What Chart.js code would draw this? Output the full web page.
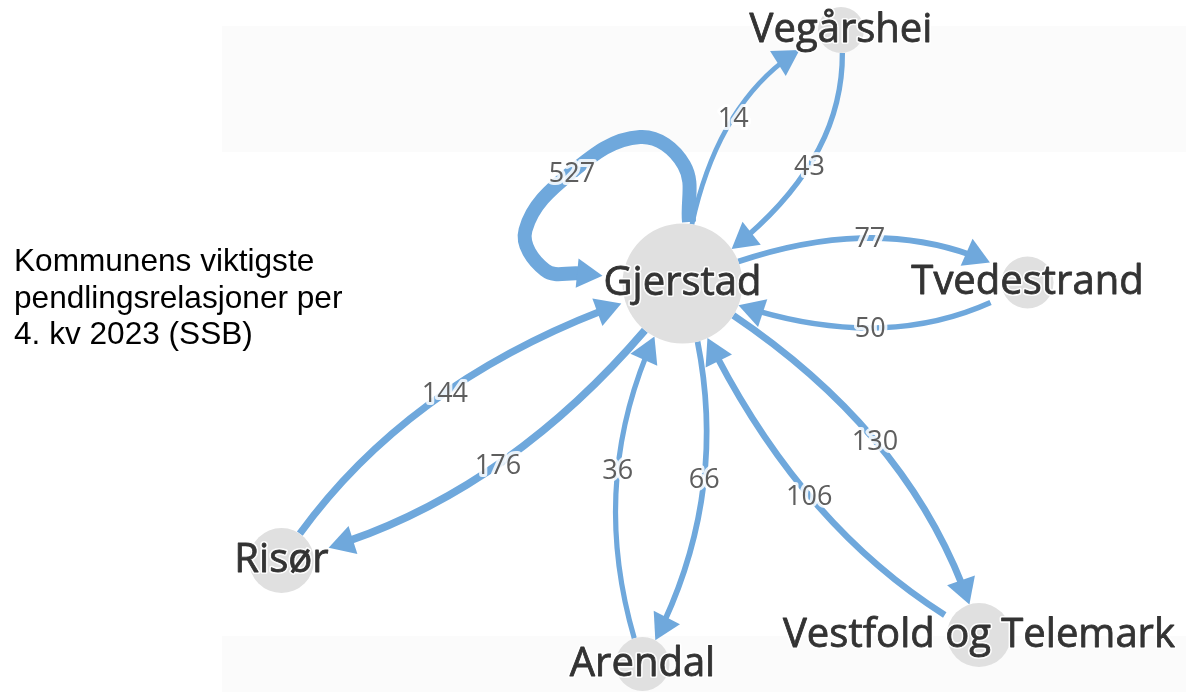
<!DOCTYPE html>
<html><head><meta charset="utf-8">
<script src="https://cdn.jsdelivr.net/npm/chart.js@4/dist/chart.umd.min.js"></script>
<style>
html,body{margin:0;padding:0;background:#fff;overflow:hidden}
#wrap{position:relative;width:1186px;height:692px}
#title{position:absolute;left:14px;top:242px;font:31.6px "Liberation Sans",Arial,sans-serif;line-height:36.5px;color:#000;white-space:nowrap}
canvas{position:absolute;left:0;top:0}
</style></head><body>
<div id="wrap"><canvas id="c" width="1186" height="692"></canvas>
<div id="title">Kommunens viktigste<br>pendlingsrelasjoner per<br>4. kv 2023 (SSB)</div></div>
<script>
// ---- data ----
const nodes = ['Gjerstad','Vegårshei','Tvedestrand','Risør','Arendal','Vestfold og Telemark'];
const edgeFrom = ['Gjerstad','Gjerstad','Vegårshei','Gjerstad','Tvedestrand','Risør','Gjerstad','Arendal','Gjerstad','Gjerstad','Vestfold og Telemark'];
const edgeTo   = ['Gjerstad','Vegårshei','Gjerstad','Tvedestrand','Gjerstad','Gjerstad','Risør','Gjerstad','Arendal','Vestfold og Telemark','Gjerstad'];
const edgeValues = [527,14,43,77,50,144,176,36,66,130,106];

// ---- layout (graph node placement) ----
const nodeX = [682.5, 841, 1027.5, 281.5, 642.5, 979];
const nodeY = [283.5, 30, 282.5, 560.5, 664, 635];
const nodeRadius = [60, 23, 26, 32.5, 27, 32];
// curvature of each edge: sideways bulge and shift of its middle towards the target
const edgeBend  = [0, 45, 45, 45, 45, 45, 44, 45, 42, 46, 40];
const edgeShift = [0, 18, -18, 15, -15, -14, 11, 0, 0, 14, -14];
// self-loop shape, relative to the node centre
const loopShape = [[6.5,-61.5],[1.5,-118.5],[-42.5,-146.5],[-110.5,-111.5],[-157,-53.5],[-137.5,-13.5]];
const loopLabelIndex = 3;

// ---- styles ----
const EDGE_COLOR = '#6fa8dc';
const NODE_COLOR = '#e0e0e0';
const NODE_FONT = '40px "Open Sans"';
const EDGE_FONT = '27px "Open Sans"';
const BOX_HH = 20, ARROW_R = 17;

const mctx = document.createElement('canvas').getContext('2d');
mctx.font = NODE_FONT;
const halfW = nodes.map(n => mctx.measureText(n).width / 2);

function idx(name){ return nodes.indexOf(name); }
function inside(i, p){
  const dx = p.x - nodeX[i], dy = p.y - nodeY[i];
  return Math.hypot(dx, dy) <= nodeRadius[i] || (Math.abs(dx) <= halfW[i] && Math.abs(dy) <= BOX_HH);
}
function boundary(i, ux, uy){
  const a = Math.abs(ux) > 1e-6 ? halfW[i] / Math.abs(ux) : Infinity;
  const b = Math.abs(uy) > 1e-6 ? BOX_HH / Math.abs(uy) : Infinity;
  return Math.max(nodeRadius[i], Math.min(a, b));
}
const vMin = Math.min(...edgeValues), vMax = Math.max(...edgeValues);
function widthFor(v){ return 4.8 + (v - vMin) / (vMax - vMin) * 9.2; }

function qPoint(P0, C, P2, t){
  const a = (1 - t) * (1 - t), b = 2 * t * (1 - t), c = t * t;
  return {x: a * P0.x + b * C.x + c * P2.x, y: a * P0.y + b * C.y + c * P2.y};
}
function qDeriv(P0, C, P2, t){
  return {x: 2 * (1 - t) * (C.x - P0.x) + 2 * t * (P2.x - C.x), y: 2 * (1 - t) * (C.y - P0.y) + 2 * t * (P2.y - C.y)};
}

const edgeSets = [], arrowPts = [], arrowRot = [];
edgeValues.forEach((v, k) => {
  const s = idx(edgeFrom[k]), t = idx(edgeTo[k]);
  let pts, labelPt, tip, dir, quad = null;
  if (s === t) {
    pts = loopShape.map(([dx, dy]) => ({x: nodeX[s] + dx, y: nodeY[s] + dy}));
    labelPt = pts[loopLabelIndex];
    const prev = pts[pts.length - 1];
    const dx = prev.x - nodeX[s], dy = prev.y - nodeY[s], L = Math.hypot(dx, dy);
    const ux = dx / L, uy = dy / L, b = boundary(s, ux, uy) + 1;
    tip = {x: nodeX[s] + ux * b, y: nodeY[s] + uy * b};
    const ax = tip.x - prev.x, ay = tip.y - prev.y, al = Math.hypot(ax, ay);
    dir = {x: ax / al, y: ay / al};
    pts.push({x: tip.x - dir.x * ARROW_R * 1.3, y: tip.y - dir.y * ARROW_R * 1.3});
  } else {
    const P0 = {x: nodeX[s], y: nodeY[s]}, P2 = {x: nodeX[t], y: nodeY[t]};
    const dx = P2.x - P0.x, dy = P2.y - P0.y, L = Math.hypot(dx, dy);
    const ux = dx / L, uy = dy / L, lx = uy, ly = -ux;
    const sh = edgeShift[k], bend = edgeBend[k];
    const M = {x: (P0.x + P2.x) / 2 + ux * sh + lx * bend, y: (P0.y + P2.y) / 2 + uy * sh + ly * bend};
    const C = {x: 2 * M.x - (P0.x + P2.x) / 2, y: 2 * M.y - (P0.y + P2.y) / 2};
    let lo = 0, hi = 0.5;
    for (let n = 0; n < 40; n++){ const m = (lo + hi) / 2; if (inside(s, qPoint(P0, C, P2, m))) lo = m; else hi = m; }
    const t0 = hi;
    lo = 0.5; hi = 1;
    for (let n = 0; n < 40; n++){ const m = (lo + hi) / 2; if (inside(t, qPoint(P0, C, P2, m))) hi = m; else lo = m; }
    const tTip = lo;
    tip = qPoint(P0, C, P2, tTip);
    const d = qDeriv(P0, C, P2, tTip), dl = Math.hypot(d.x, d.y);
    dir = {x: d.x / dl, y: d.y / dl};
    lo = 0.5; hi = tTip;
    for (let n = 0; n < 40; n++){ const m = (lo + hi) / 2; const p = qPoint(P0, C, P2, m);
      if (Math.hypot(p.x - tip.x, p.y - tip.y) > ARROW_R * 1.2) lo = m; else hi = m; }
    const tb = lo;
    const A = qPoint(P0, C, P2, t0), E = qPoint(P0, C, P2, tb);
    const d0 = qDeriv(P0, C, P2, t0);
    const K = {x: A.x + (tb - t0) * d0.x / 2, y: A.y + (tb - t0) * d0.y / 2};
    pts = [A, qPoint(P0, C, P2, (t0 + tb) / 2), E];
    quad = {A, K, E};
    labelPt = M;
  }
  arrowPts.push({x: tip.x - dir.x * ARROW_R, y: tip.y - dir.y * ARROW_R});
  arrowRot.push(Math.atan2(dir.x, -dir.y) * 180 / Math.PI);
  edgeSets.push({type: 'line', data: pts, showLine: true, tension: 0.4, borderColor: EDGE_COLOR,
    borderWidth: widthFor(v), pointRadius: 0, fill: false, order: 3, clip: false,
    borderCapStyle: 'butt', valueLabel: String(v), labelPos: labelPt, quad});
});

const nodeSet = {type: 'scatter', data: nodes.map((n, i) => ({x: nodeX[i], y: nodeY[i]})),
  pointRadius: nodeRadius, pointBackgroundColor: NODE_COLOR, pointBorderWidth: 0, order: 1, clip: false};
const arrowSet = {type: 'scatter', data: arrowPts, pointStyle: 'triangle', pointRadius: ARROW_R,
  pointRotation: arrowRot, pointBackgroundColor: EDGE_COLOR, pointBorderWidth: 0, order: 2, clip: false};

const graphPlugin = {
  id: 'graphText',
  beforeDraw(chart){
    const ctx = chart.ctx;
    ctx.save();
    ctx.fillStyle = '#fbfbfb';
    ctx.fillRect(222, 26, 964, 126);
    ctx.fillRect(222, 636, 964, 56);
    ctx.restore();
  },
  beforeDatasetsDraw(chart){
    const xs = chart.scales.x, ys = chart.scales.y;
    const px = p => ({x: xs.getPixelForValue(p.x), y: ys.getPixelForValue(p.y)});
    chart.data.datasets.forEach((ds, i) => {
      if (!ds.quad) return;
      const meta = chart.getDatasetMeta(i), line = meta.dataset, p = meta.data;
      if (!line || typeof line.updateControlPoints !== 'function' || p.length !== 3) return;
      line.updateControlPoints(chart.chartArea, meta.indexAxis);
      const A = px(ds.quad.A), K = px(ds.quad.K), E = px(ds.quad.E);
      const Q0 = {x: (A.x + K.x) / 2, y: (A.y + K.y) / 2}, Q1 = {x: (K.x + E.x) / 2, y: (K.y + E.y) / 2};
      const Mx = (Q0.x + Q1.x) / 2, My = (Q0.y + Q1.y) / 2;
      p[0].cp1x = A.x; p[0].cp1y = A.y;
      p[0].cp2x = A.x + 2 / 3 * (Q0.x - A.x); p[0].cp2y = A.y + 2 / 3 * (Q0.y - A.y);
      p[1].cp1x = Mx + 2 / 3 * (Q0.x - Mx); p[1].cp1y = My + 2 / 3 * (Q0.y - My);
      p[1].cp2x = Mx + 2 / 3 * (Q1.x - Mx); p[1].cp2y = My + 2 / 3 * (Q1.y - My);
      p[2].cp1x = E.x + 2 / 3 * (Q1.x - E.x); p[2].cp1y = E.y + 2 / 3 * (Q1.y - E.y);
      p[2].cp2x = E.x; p[2].cp2y = E.y;
      line._path = undefined;
    });
  },
  afterDatasetsDraw(chart){
    const ctx = chart.ctx, xs = chart.scales.x, ys = chart.scales.y;
    ctx.save();
    ctx.lineJoin = 'round';
    ctx.textAlign = 'center';
    ctx.textBaseline = 'alphabetic';
    ctx.font = EDGE_FONT;
    chart.data.datasets.forEach(ds => {
      if (!ds.valueLabel) return;
      const x = xs.getPixelForValue(ds.labelPos.x), y = ys.getPixelForValue(ds.labelPos.y) + 9.5;
      ctx.strokeStyle = 'rgba(255,255,255,0.85)';
      ctx.lineWidth = 6;
      ctx.strokeText(ds.valueLabel, x, y);
      ctx.fillStyle = '#5e5e5e';
      ctx.fillText(ds.valueLabel, x, y);
    });
    ctx.font = NODE_FONT;
    nodes.forEach((n, i) => {
      const x = xs.getPixelForValue(nodeX[i]), y = ys.getPixelForValue(nodeY[i]) + 11.5;
      ctx.strokeStyle = 'rgba(255,255,255,0.9)';
      ctx.lineWidth = 4;
      ctx.strokeText(n, x, y);
      ctx.fillStyle = '#333333';
      ctx.fillText(n, x, y);
      ctx.strokeStyle = '#333333';
      ctx.lineWidth = 0.8;
      ctx.strokeText(n, x, y);
    });
    ctx.restore();
  }
};

new Chart(document.getElementById('c'), {
  type: 'scatter',
  data: {datasets: [nodeSet, arrowSet, ...edgeSets]},
  options: {
    responsive: false, animation: false, devicePixelRatio: 1, events: [],
    layout: {padding: 0, autoPadding: false},
    plugins: {legend: {display: false}, tooltip: {enabled: false}},
    scales: {
      x: {type: 'linear', min: 0, max: 1186, display: false},
      y: {type: 'linear', min: 0, max: 692, reverse: true, display: false}
    }
  },
  plugins: [graphPlugin]
});
</script>
</body></html>
